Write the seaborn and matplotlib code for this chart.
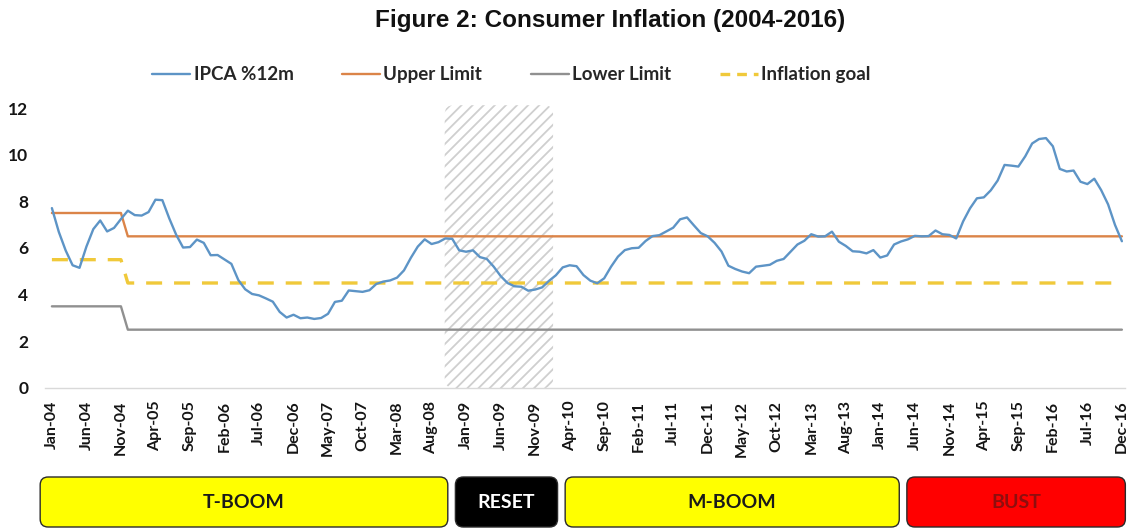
import numpy as np
import pandas as pd
import matplotlib
matplotlib.use("Agg")
import matplotlib.pyplot as plt
import seaborn as sns
from matplotlib.patches import FancyBboxPatch
from matplotlib.lines import Line2D
from matplotlib.transforms import blended_transform_factory

# ---- data -----------------------------------------------------------------
ipca_2004 = [7.71, 6.69, 5.89, 5.26, 5.15, 6.06, 6.81, 7.18, 6.71, 6.86, 7.24, 7.60]
ipca_2005 = [7.41, 7.39, 7.54, 8.07, 8.05, 7.27, 6.57, 6.02, 6.04, 6.36, 6.22, 5.69]
ipca_2006 = [5.70, 5.51, 5.32, 4.63, 4.23, 4.03, 3.97, 3.84, 3.70, 3.26, 3.02, 3.14]
ipca_2007 = [2.99, 3.02, 2.96, 3.00, 3.18, 3.69, 3.74, 4.18, 4.15, 4.12, 4.19, 4.46]
ipca_2008 = [4.56, 4.61, 4.73, 5.04, 5.58, 6.06, 6.37, 6.17, 6.25, 6.41, 6.39, 5.90]
ipca_2009 = [5.84, 5.90, 5.61, 5.53, 5.20, 4.80, 4.50, 4.36, 4.34, 4.17, 4.22, 4.31]
ipca_2010 = [4.59, 4.83, 5.17, 5.26, 5.22, 4.84, 4.60, 4.49, 4.70, 5.20, 5.63, 5.91]
ipca_2011 = [5.99, 6.01, 6.30, 6.51, 6.55, 6.71, 6.87, 7.23, 7.31, 6.97, 6.64, 6.50]
ipca_2012 = [6.22, 5.85, 5.24, 5.10, 4.99, 4.92, 5.20, 5.24, 5.28, 5.45, 5.53, 5.84]
ipca_2013 = [6.15, 6.31, 6.59, 6.49, 6.50, 6.70, 6.27, 6.09, 5.86, 5.84, 5.77, 5.91]
ipca_2014 = [5.59, 5.68, 6.15, 6.28, 6.37, 6.52, 6.50, 6.51, 6.75, 6.59, 6.56, 6.41]
ipca_2015 = [7.14, 7.70, 8.13, 8.17, 8.47, 8.89, 9.56, 9.53, 9.49, 9.93, 10.48, 10.67]
ipca_2016 = [10.71, 10.36, 9.39, 9.28, 9.32, 8.84, 8.74, 8.97, 8.48, 7.87, 6.99, 6.29]

# inflation-targeting regime: (goal, tolerance) before and after the switch month
old_goal, old_tolerance = 5.5, 2.0
new_goal, new_tolerance = 4.5, 2.0
regime_switch = "2004-12"

# phases shown in the bar below the chart (month index edges)
phase_names = ["T-BOOM", "RESET", "M-BOOM", "BUST"]
phase_edges = [-1.7, 57.9, 73.8, 123.3, 155.5]
phase_faces = ["#FFFF00", "#000000", "#FFFF00", "#FF0000"]
phase_text = ["#1A1A1A", "#FFFFFF", "#1A1A1A", "#8E0E0E"]

# crisis window shaded in the chart (month index)
reset_window = (56.9, 72.6)

# ---- frame -----------------------------------------------------------------
ipca = (ipca_2004 + ipca_2005 + ipca_2006 + ipca_2007 + ipca_2008 + ipca_2009
        + ipca_2010 + ipca_2011 + ipca_2012 + ipca_2013 + ipca_2014 + ipca_2015
        + ipca_2016)
dates = pd.date_range("2004-01-01", periods=len(ipca), freq="MS")
before = dates < pd.Timestamp(regime_switch)
goal = np.where(before, old_goal, new_goal)
tol = np.where(before, old_tolerance, new_tolerance)

df = pd.DataFrame({
    "month": np.arange(len(ipca)),
    "IPCA %12m": ipca,
    "Upper Limit": goal + tol,
    "Lower Limit": goal - tol,
    "Inflation goal": goal,
})
month_labels = dates.strftime("%b-%y")

# ---- style -----------------------------------------------------------------
sns.set_theme(style="white")
plt.rcParams["font.family"] = ["Lato", "DejaVu Sans"]
plt.rcParams["lines.scale_dashes"] = False
plt.rcParams["hatch.linewidth"] = 1.3

c_ipca = "#5D94C6"
c_upper = "#DB8448"
c_lower = "#909090"
c_goal = "#F0C93A"
ink = "#151515"

W, H = 1128, 529
fig = plt.figure(figsize=(W / 100, H / 100), dpi=100)
ax = fig.add_axes([45 / W, 1 - 388 / H, 1080 / W, 280 / H])

ax.set_xlim(-1.0, 155.45)
ax.set_ylim(0, 12)

# hatched crisis window
dx = ax.transData.transform((1, 0))[0] - ax.transData.transform((0, 0))[0]
dy = ax.transData.transform((0, 1))[1] - ax.transData.transform((0, 0))[1]
r_px = 9
hatch = FancyBboxPatch(
    (reset_window[0], 0), reset_window[1] - reset_window[0], 12.12,
    boxstyle=f"round,pad=0,rounding_size={r_px / dx}",
    mutation_aspect=dx / dy,
    facecolor="white", edgecolor="#CFCFCF", hatch="///", linewidth=0,
    clip_on=False, zorder=1,
)
ax.add_patch(hatch)

sns.lineplot(data=df, x="month", y="Lower Limit", color=c_lower, linewidth=1.7, ax=ax, zorder=3)
sns.lineplot(data=df, x="month", y="Upper Limit", color=c_upper, linewidth=1.7, ax=ax, zorder=3)
sns.lineplot(data=df, x="month", y="Inflation goal", color=c_goal, linewidth=2.4, ax=ax, zorder=3)
ax.lines[-1].set_dashes([11.5, 8.6])
sns.lineplot(data=df, x="month", y="IPCA %12m", color=c_ipca, linewidth=1.7, ax=ax, zorder=4)

# axes cosmetics
for side in ["top", "right", "left"]:
    ax.spines[side].set_visible(False)
ax.spines["bottom"].set_color("#D9D9D9")
ax.spines["bottom"].set_linewidth(1.0)
ax.set_xlabel("")
ax.set_ylabel("")
ax.set_yticks(np.arange(0, 13, 2))
ax.set_yticklabels([str(v) for v in range(0, 13, 2)], fontsize=12.5, fontweight="bold", color=ink)
tick_pos = df["month"].values[::5]
ax.set_xticks(tick_pos)
ax.set_xticklabels(month_labels[::5], rotation=90, fontsize=11.5, fontweight="bold", color=ink)
ax.tick_params(axis="y", length=0, pad=12)
ax.tick_params(axis="x", length=0, pad=9)
ax.grid(False)

# legend
handles = [
    Line2D([], [], color=c_ipca, linewidth=1.7),
    Line2D([], [], color=c_upper, linewidth=1.7),
    Line2D([], [], color=c_lower, linewidth=1.7),
    Line2D([], [], color=c_goal, linewidth=2.4, dashes=[7, 5]),
]
ax.legend(handles, ["IPCA %12m", "Upper Limit", "Lower Limit", "Inflation goal"],
          ncol=4, loc="center", bbox_to_anchor=(0.432, 1.118), frameon=False,
          handlelength=2.0, handletextpad=0.2, columnspacing=2.6,
          prop={"family": ["Lato", "DejaVu Sans"], "weight": "bold", "size": 13.5})

# phase bar below the axis
trans = blended_transform_factory(ax.transData, ax.transAxes)
box_top = (388 - 477) / 280
box_bot = (388 - 527) / 280
box_h = box_top - box_bot
gap = 0.55
for i, name in enumerate(phase_names):
    x0 = phase_edges[i] + (gap if i > 0 else 0)
    x1 = phase_edges[i + 1] - (gap if i < len(phase_names) - 1 else 0)
    p = FancyBboxPatch(
        (x0, box_bot), x1 - x0, box_h,
        boxstyle=f"round,pad=0,rounding_size={8 / dx}",
        mutation_aspect=dx / 280,
        facecolor=phase_faces[i], edgecolor="#2A2A2A", linewidth=1.0,
        transform=trans, clip_on=False, zorder=2,
    )
    ax.add_patch(p)
    ax.text((x0 + x1) / 2, box_bot + box_h / 2, name, transform=trans,
            ha="center", va="center", fontsize=14, fontweight="bold",
            color=phase_text[i], zorder=3)

fig.text(610 / W, 1 - 20 / H, "Figure 2: Consumer Inflation (2004-2016)",
         ha="center", va="center", fontsize=17.5, fontweight="bold",
         family=["Liberation Sans", "DejaVu Sans"], color="#111111")

fig.savefig("out.png", dpi=100, facecolor="white")
